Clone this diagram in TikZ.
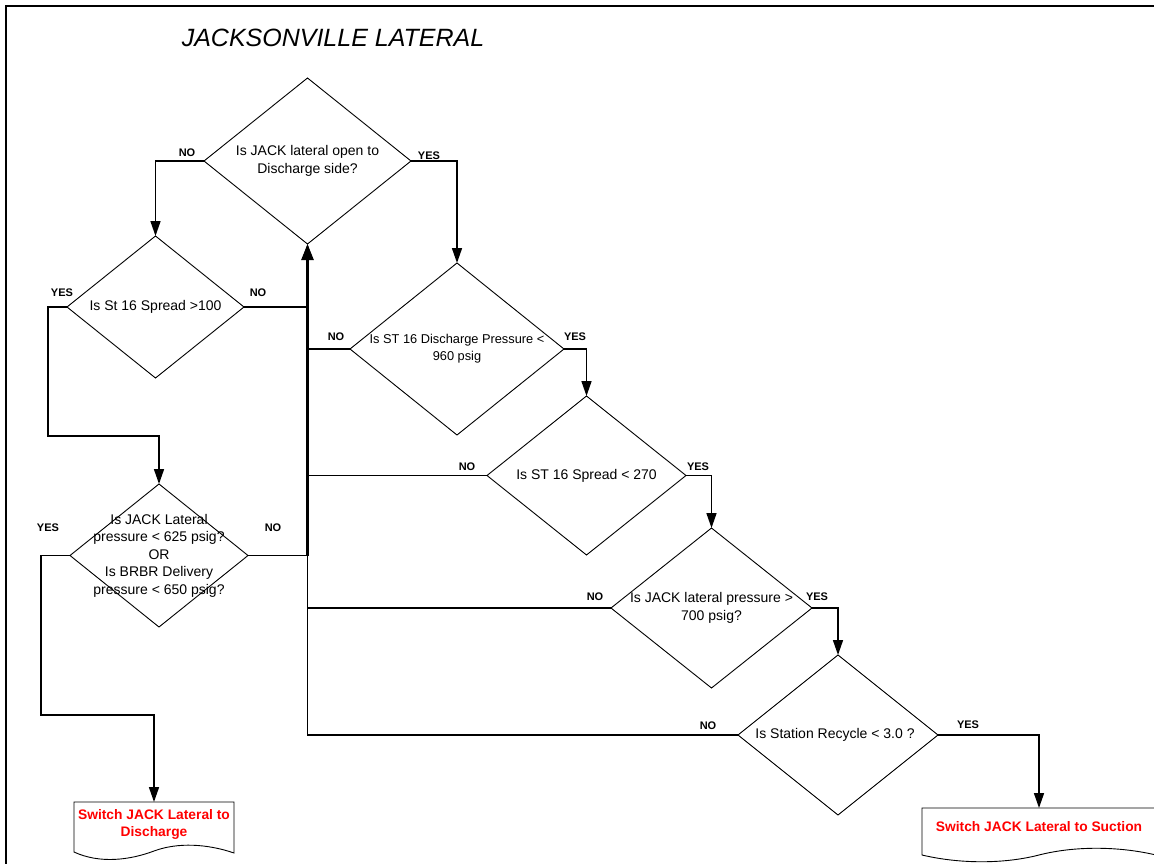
\documentclass[tikz,border=0pt]{standalone}
\usepackage{fontspec}
\setmainfont{Liberation Sans}
\usetikzlibrary{shapes.geometric,arrows.meta}
\tikzset{
  dia/.style={diamond, draw, line width=0.9pt, inner sep=0pt, outer sep=0pt},
  qtext/.style={align=center, font=\fontsize{14pt}{17.5pt}\selectfont, inner sep=0pt},
  lab/.style={font=\fontsize{11pt}{12pt}\selectfont\bfseries, inner sep=0pt},
  conn/.style={line width=1.6pt, -{Triangle[length=15pt,width=10pt]}},
  plain/.style={line width=1.6pt},
  trunk/.style={line width=2.6pt, -{Triangle[length=16pt,width=12pt]}},
  doc/.style={align=center, text=red, font=\fontsize{13.8pt}{17pt}\selectfont\bfseries, inner sep=0pt, outer sep=0pt},
  docline/.style={line width=0.9pt}
}
\begin{document}
\begin{tikzpicture}[x=1pt,y=1pt]
\useasboundingbox (0,0) rectangle (1154,-863);
\clip (0,0) rectangle (1154,-863);
\fill[white] (0,0) rectangle (1154,-863);
% frame
\draw[line width=2.5pt] (6,-870) -- (6,-6) -- (1160,-6);
% title
\node[font=\fontsize{25pt}{30pt}\selectfont\itshape, inner sep=0pt] (title) at (333,-38) {JACKSONVILLE LATERAL};
% diamonds
\node[dia, minimum width=207pt, minimum height=166pt] (d1) at (307.5,-161) {};
\node[qtext] (t1) at (d1.center) {Is JACK lateral open to\\Discharge side?};
\node[dia, minimum width=177pt, minimum height=142pt] (d2) at (155.5,-307) {};
\node[qtext] (t2) at (d2.center) {Is St 16 Spread >100};
\node[dia, minimum width=214pt, minimum height=172pt] (d3) at (457,-349) {};
\node[qtext, font=\fontsize{12.8pt}{17pt}\selectfont] (t3) at (d3.center) {Is ST 16 Discharge Pressure <\\960 psig};
\node[dia, minimum width=199pt, minimum height=159pt] (d4) at (586.5,-475.5) {};
\node[qtext] (t4) at (d4.center) {Is ST 16 Spread < 270};
\node[dia, minimum width=201pt, minimum height=160pt] (d5) at (711.5,-608) {};
\node[qtext] (t5) at (d5.center) {Is JACK lateral pressure >\\700 psig?};
\node[dia, minimum width=200pt, minimum height=160pt] (d6) at (838,-735) {};
\node[qtext] (t6) at (835,-735) {Is Station Recycle < 3.0 ?};
\node[dia, minimum width=178pt, minimum height=143pt] (d7) at (159,-555.5) {};
\node[qtext] (t7) at (d7.center) {Is JACK Lateral\\pressure < 625 psig?\\OR\\Is BRBR Delivery\\pressure < 650 psig?};
% documents
\node[doc, minimum width=160pt, minimum height=44pt] (s1) at (154,-824) {Switch JACK Lateral to\\Discharge};
\draw[docline] (s1.north west) -- (s1.north east) -- ++(0,-51)
  .. controls ++(-26,9) and ++(24,9) .. ++(-80,2)
  .. controls ++(-24,-9) and ++(26,-12) .. ++(-80,-1) -- cycle;
\node[doc, minimum width=234pt, minimum height=37pt] (s2) at (1039,-826.5) {Switch JACK Lateral to Suction};
\draw[docline] (s2.north west) -- (s2.north east) -- ++(0,-47)
  .. controls ++(-38,9) and ++(35,9) .. ++(-117,0)
  .. controls ++(-35,-9) and ++(38,-9) .. ++(-117,0) -- cycle;
% junction coordinates
\coordinate (j1) at (48,-436);
\coordinate (j2) at (41,-715);
% YES connectors
\draw[conn] (d1.east) -| (d3.north);
\draw[conn] (d3.east) -| (d4.north);
\draw[conn] (d4.east) -| (d5.north);
\draw[conn] (d5.east) -| (d6.north);
\draw[conn] (d6.east) -| (s2.north);
\draw[conn] (d2.west) -| (j1) -| (d7.north);
\draw[conn] (d7.west) -| (j2) -| (s1.north);
% NO connectors
\draw[conn] (d1.west) -| (d2.north);
\draw[plain] (d2.east) -- (d2.east -| d1.south);
\draw[plain] (d3.west) -- (d3.west -| d1.south);
\draw[plain] (d4.west) -- (d4.west -| d1.south);
\draw[plain] (d5.west) -- (d5.west -| d1.south);
\draw[plain] (d7.east) -- (d7.east -| d1.south);
\draw[conn] (d6.west) -| (d1.south);
\draw[trunk] (d7.east -| d1.south) -- (d1.south);
% labels
\node[lab] (l1n) at (187,-153) {NO};
\node[lab] (l1y) at (429,-156) {YES};
\node[lab] (l2y) at (62,-293) {YES};
\node[lab] (l2n) at (258,-293) {NO};
\node[lab] (l3n) at (336,-337) {NO};
\node[lab] (l3y) at (575,-337) {YES};
\node[lab] (l4n) at (467,-467) {NO};
\node[lab] (l4y) at (698,-467) {YES};
\node[lab] (l5n) at (595,-597) {NO};
\node[lab] (l5y) at (817,-597) {YES};
\node[lab] (l6n) at (708,-726) {NO};
\node[lab] (l6y) at (968,-725) {YES};
\node[lab] (l7y) at (48,-528) {YES};
\node[lab] (l7n) at (273,-528) {NO};
\end{tikzpicture}
\end{document}
